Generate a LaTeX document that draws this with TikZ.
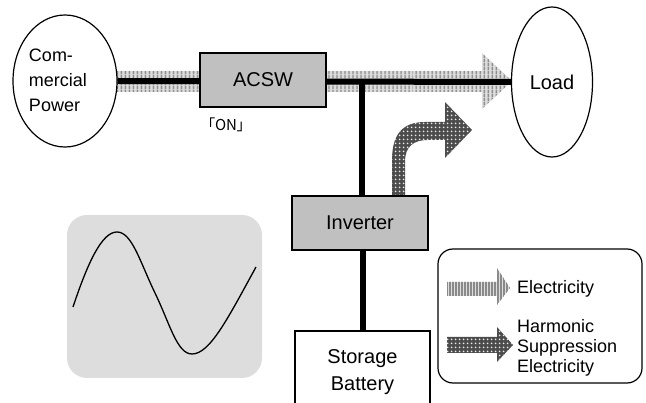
\documentclass[tikz,border=0pt]{standalone}
\usepackage{fontspec}
\setmainfont{Liberation Sans}
\newfontfamily\cjk[RawFeature=+palt]{Noto Sans CJK JP}
\usetikzlibrary{shapes.geometric,patterns.meta,positioning}

\definecolor{boxgray}{HTML}{C0C0C0}
\definecolor{panelgray}{HTML}{DDDDDD}
\definecolor{stripegray}{HTML}{8A8A8A}
\definecolor{stripelight}{HTML}{DEDEDE}
\definecolor{dotdark}{HTML}{4C4C4C}

\tikzset{
  unit/.style={draw, fill=boxgray, line width=1.2pt, minimum width=126pt,
    minimum height=54pt, font=\fontsize{20}{26}\selectfont},
  source/.style={ellipse, draw, fill=white, line width=1.2pt, inner sep=0pt},
  power/.style={line width=6pt},
  elec/.style={fill=stripelight, postaction={pattern={Lines[angle=90,distance=4pt,line width=2pt]},
    pattern color=stripegray}},
  elecsmall/.style={fill=stripelight, postaction={pattern={Lines[angle=90,distance=3pt,line width=1.5pt]},
    pattern color=stripegray}},
  harm/.style={fill=dotdark, postaction={pattern={Dots[distance=4pt,radius=1.1pt]},
    pattern color=white!85!gray}},
  legtext/.style={anchor=west, align=left, inner sep=0pt, font=\fontsize{18}{20}\selectfont}
}

\begin{document}
\begin{tikzpicture}[x=1pt,y=-1pt]
  \useasboundingbox (0,0) rectangle (646,403);
  \clip (0,0) rectangle (646,403);

  % electricity flow behind the main line
  \path[elec] (112,71) -- (482,71) -- (482,53) -- (512,81) -- (482,109)
    -- (482,92) -- (112,92) -- cycle;

  % sources and load
  \node[source, minimum width=104pt, minimum height=132pt] (grid) at (65,81) {};
  \node[align=left, font=\fontsize{18}{25}\selectfont] (gridlbl) at (58,80) {Com-\\mercial\\Power};
  \node[source, minimum width=81pt, minimum height=150pt,
    font=\fontsize{20}{26}\selectfont] (load) at (552,82) {Load};

  \coordinate (tee) at (362,81);

  % main line
  \draw[power] (grid.east) -- (load.west);

  % harmonic suppression current out of the inverter
  \path[harm] (392,197) -- (392,160) .. controls (392,135) and (402,122) .. (425,122)
    -- (445,122) -- (445,102) -- (472,130) -- (445,158) -- (445,140) -- (428,140)
    .. controls (413,140) and (405,147) .. (405,162) -- (405,197) -- cycle;

  \node[unit] (acsw) at (263,80) {ACSW};
  \node[font=\cjk\fontsize{15}{15}\selectfont] (onlbl) at (226,125) {「ON」};

  \node[unit, minimum width=136pt] (inv) at (360,223) {Inverter};
  \node[draw, fill=white, line width=1.2pt, minimum width=135pt, minimum height=82pt,
    align=center, font=\fontsize{20}{27}\selectfont] (batt) at (362.5,372) {Storage\\Battery};

  \draw[power] (tee) -- (tee |- inv.north);
  \draw[power] (inv.south -| batt.north) -- (batt.north);

  % waveform panel
  \node[fill=panelgray, rounded corners=20pt, minimum width=195pt, minimum height=163pt] (wave) at (164.5,296.5) {};
  \draw[line width=1.3pt] (73,307) .. controls (88,262) and (102,232) .. (117,232)
    .. controls (132,232) and (140,262) .. (155,293)
    .. controls (170,324) and (177,354) .. (192,354)
    .. controls (210,354) and (228,318) .. (256,267);

  % legend
  \draw[rounded corners=15pt, line width=1.2pt] (438,249) rectangle (642,383);
  \path[elecsmall] (447,282) -- (497,282) -- (497,268) -- (510,288) -- (497,305)
    -- (497,296) -- (447,296) -- cycle;
  \node[legtext] (legelec) at (517,289) {Electricity};
  \path[harm] (447,337) -- (497,337) -- (497,327) -- (513,345) -- (497,362)
    -- (497,353) -- (447,353) -- cycle;
  \node[legtext] (legharm) at (517,348) {Harmonic\\Suppression\\Electricity};
\end{tikzpicture}
\end{document}
